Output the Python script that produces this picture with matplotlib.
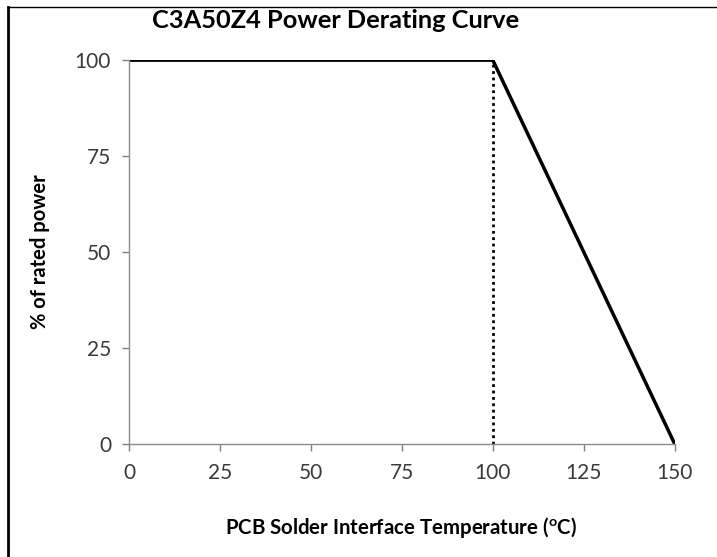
import matplotlib.pyplot as plt
from matplotlib.lines import Line2D

# derating curve data
temp = [0, 100, 150]
power = [100, 100, 0]
knee_x = [100, 100]
knee_y = [0, 100]
xticks = [0, 25, 50, 75, 100, 125, 150]
yticks = [0, 25, 50, 75, 100]

plt.rcParams['font.family'] = ['Lato', 'DejaVu Sans']

fig = plt.figure(figsize=(7.17, 5.57), dpi=100)
ax = fig.add_axes([0.180, 0.203, 0.761, 0.689])

ax.plot(temp, power, color='black', lw=2.5, solid_joinstyle='miter')
ax.plot(knee_x, knee_y, color='black', lw=2, linestyle=(0, (1, 1.3)))

ax.set_xlim(0, 150)
ax.set_ylim(0, 100)
ax.set_xticks(xticks)
ax.set_yticks(yticks)
ax.tick_params(labelsize=15, colors='#7f7f7f', labelcolor='#3a3a3a',
               length=5, width=1, pad=8)
ax.tick_params(axis='x', pad=9)
for s in ['top', 'right']:
    ax.spines[s].set_visible(False)
for s in ['left', 'bottom']:
    ax.spines[s].set_color('#8c8c8c')
    ax.spines[s].set_linewidth(1)

fig.text(336/717, 1 - 20/557, 'C3A50Z4 Power Derating Curve', ha='center',
         va='center', fontsize=18.3, fontweight='bold')
fig.text(401/717, 1 - 527/557,
         'PCB Solder Interface Temperature ($^{\\mathregular{o}}$C)',
         ha='center', va='center', fontsize=14.7, fontweight='bold')
fig.text(40/717, 1 - 252/557, '% of rated power', rotation=90, ha='center',
         va='center', fontsize=14.5, fontweight='bold')

# outer frame
fig.add_artist(Line2D([8/717, 8/717], [0, 1 - 7/557], color='black', lw=2,
                      transform=fig.transFigure))
fig.add_artist(Line2D([8/717, 1], [1 - 7/557, 1 - 7/557], color='black',
                      lw=1, transform=fig.transFigure))

fig.savefig('out.png', dpi=100)
